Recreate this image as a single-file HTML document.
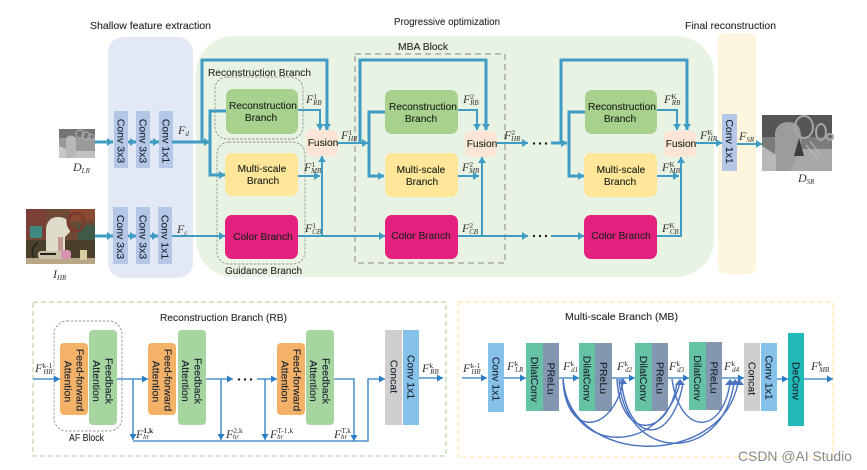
<!DOCTYPE html>
<html><head><meta charset="utf-8">
<style>
html,body{margin:0;padding:0;background:#fff;width:867px;height:470px;overflow:hidden}
svg{display:block;filter:blur(.3px)}
text{font-family:"Liberation Sans",sans-serif;fill:#222}
.t{font-size:10.5px;fill:#2a2a2a;stroke:#2a2a2a;stroke-width:.12}
.b{font-size:10.2px;text-anchor:middle;fill:#1a231a;stroke:#1a231a;stroke-width:.12}
.r{font-size:10.5px;text-anchor:middle;fill:#18222e;stroke:#18222e;stroke-width:.12}
.m{font-family:"Liberation Serif",serif;font-style:italic;font-size:12px;fill:#333}
.u{font-size:7.5px;font-style:normal}
.l{font-size:7px}
.a{fill:none;stroke:#3f9dc4;stroke-width:3}
.a2{fill:none;stroke:#3f9dc4;stroke-width:2}
.n{fill:none;stroke:#2a7cc7;stroke-width:1.3}
.c{fill:none;stroke:#4a72c0;stroke-width:1.4}
</style></head><body>
<svg width="867" height="470" viewBox="0 0 867 470" xmlns="http://www.w3.org/2000/svg">
<defs>
<marker id="h" markerUnits="userSpaceOnUse" markerWidth="7" markerHeight="8" refX="6" refY="4" orient="auto"><path d="M0,0L6,4L0,8z" fill="#3f9dc4"/></marker>
<marker id="n" markerUnits="userSpaceOnUse" markerWidth="7" markerHeight="7" refX="6" refY="3.5" orient="auto"><path d="M0,0L6,3.5L0,7z" fill="#2a7cc7"/></marker>
</defs>

<!-- panels -->
<rect x="108" y="37" width="85" height="241" rx="15" fill="#e3e9f4"/>
<rect x="196" y="36" width="518" height="241" rx="38" fill="#e9f3e3"/>
<rect x="718" y="33" width="38" height="241" rx="7" fill="#fdf5de"/>

<text class="t" x="90" y="29" textLength="121" lengthAdjust="spacingAndGlyphs">Shallow feature extraction</text>
<text class="t" x="394" y="25" textLength="106" lengthAdjust="spacingAndGlyphs">Progressive optimization</text>
<text class="t" x="685" y="29" textLength="91" lengthAdjust="spacingAndGlyphs">Final reconstruction</text>
<text class="t" x="398" y="50" textLength="50" lengthAdjust="spacingAndGlyphs">MBA Block</text>
<text class="t" x="208" y="76" textLength="103" lengthAdjust="spacingAndGlyphs">Reconstruction Branch</text>
<text class="t" x="225" y="274" textLength="77" lengthAdjust="spacingAndGlyphs">Guidance Branch</text>

<!-- D_LR image -->
<rect x="59" y="129" width="36" height="29" fill="#999"/>
<rect x="59" y="129" width="36" height="9" fill="#747474"/>
<path d="M66,158V138q5,-5 10,0V150l5,8z" fill="#b8b8b8"/>
<path d="M59,146l7,3v9h-7z" fill="#c8c8c8"/>
<rect x="76" y="151" width="19" height="7" fill="#c2c2c2"/>
<g fill="none" stroke="#aaa" stroke-width="1.2"><circle cx="80" cy="134" r="4"/><circle cx="86" cy="136" r="4"/><circle cx="91" cy="137" r="3"/></g>

<!-- I_HR image -->
<rect x="26" y="209" width="69" height="55" fill="#6c4a36"/>
<rect x="26" y="209" width="20" height="30" fill="#7a4038"/>
<rect x="30" y="226" width="12" height="12" fill="#3f8a80"/>
<rect x="70" y="209" width="25" height="12" fill="#8a4a30"/>
<rect x="78" y="225" width="17" height="20" fill="#3f5a48"/>
<rect x="26" y="240" width="69" height="24" fill="#4a3f2a"/>
<rect x="26" y="258" width="69" height="6" fill="#b8a888"/>
<path d="M46,252V228q2,-11 12,-11q10,0 11,8l1,7l-5,5v15z" fill="#e0dccb"/>
<ellipse cx="76" cy="222" rx="8" ry="9" fill="none" stroke="#7a3a30" stroke-width="3"/>
<rect x="58" y="237" width="5" height="17" fill="#c09a90"/>
<rect x="38" y="251" width="27" height="8" rx="3" fill="#c9c2a8"/>
<rect x="40" y="253" width="16" height="2" fill="#222"/>
<rect x="61" y="250" width="10" height="9" rx="3" fill="#d892b0"/>
<rect x="80" y="250" width="7" height="10" fill="#d8cfa0"/>
<path d="M34,258q-5,-10 4,-15" fill="none" stroke="#222" stroke-width="1.5"/>

<!-- D_SR image -->
<rect x="762" y="115" width="70" height="56" fill="#7c7c7c"/>
<rect x="762" y="115" width="70" height="22" fill="#565656"/>
<path d="M775,171V133q2,-11 14,-11q11,0 12,13V150l4,21z" fill="#9c9c9c"/>
<path d="M762,146l14,9v16h-14z" fill="#b8b8b8"/>
<path d="M790,171l10,-22h32v22z" fill="#a8a8a8"/>
<path d="M794,156l5,-18 5,18z" fill="#3c3c3c"/>
<g fill="none" stroke="#a6a6a6" stroke-width="2"><ellipse cx="804" cy="127" rx="9" ry="11"/><ellipse cx="821" cy="132" rx="5" ry="8"/><circle cx="830" cy="137" r="3"/></g>
<path d="M806,145l12,14M810,141l12,16" stroke="#bbb" stroke-width="1"/>

<!-- conv blocks -->
<g fill="#b4c7e7">
<rect x="114" y="111" width="14" height="57"/><rect x="136" y="111" width="14" height="57"/><rect x="159" y="111" width="14" height="57"/>
<rect x="113" y="207" width="15" height="57"/><rect x="136" y="207" width="14" height="57"/><rect x="158" y="207" width="14" height="57"/>
<rect x="722" y="114" width="15" height="57"/>
</g>
<text class="r" transform="translate(121,141) rotate(90)" y="3.500">Conv 3x3</text>
<text class="r" transform="translate(143,141) rotate(90)" y="3.500">Conv 3x3</text>
<text class="r" transform="translate(166,141) rotate(90)" y="3.500">Conv 1x1</text>
<text class="r" transform="translate(120.500,237) rotate(90)" y="3.500">Conv 3x3</text>
<text class="r" transform="translate(143,237) rotate(90)" y="3.500">Conv 3x3</text>
<text class="r" transform="translate(165,237) rotate(90)" y="3.500">Conv 1x1</text>
<text class="r" transform="translate(729.500,141.500) rotate(90)" y="3.500">Conv 1x1</text>

<!-- dashed groups -->
<rect x="215" y="77" width="88" height="62" rx="12" fill="none" stroke="#777" stroke-width=".7" stroke-dasharray="2.5 1.5"/>
<rect x="217" y="142" width="88" height="122" rx="12" fill="none" stroke="#777" stroke-width=".7" stroke-dasharray="2.5 1.5"/>
<rect x="355" y="54" width="150" height="209" fill="none" stroke="#aaa" stroke-width="1.5" stroke-dasharray="6 4"/>

<!-- branch boxes -->
<rect x="226" y="89" width="72" height="45" rx="7" fill="#a9d18e"/>
<rect x="225" y="153" width="73" height="43" rx="7" fill="#ffe699"/>
<rect x="225" y="215" width="73" height="44" rx="7" fill="#e6207f"/>
<rect x="306" y="130" width="32" height="26" rx="5" fill="#fbe5d6"/>
<rect x="385" y="90" width="73" height="44" rx="7" fill="#a9d18e"/>
<rect x="385" y="153" width="73" height="44" rx="7" fill="#ffe699"/>
<rect x="385" y="215" width="73" height="44" rx="7" fill="#e6207f"/>
<rect x="465" y="131" width="32" height="26" rx="5" fill="#fbe5d6"/>
<rect x="585" y="90" width="72" height="44" rx="7" fill="#a9d18e"/>
<rect x="584" y="153" width="73" height="44" rx="7" fill="#ffe699"/>
<rect x="584" y="215" width="73" height="44" rx="7" fill="#e6207f"/>
<rect x="664" y="131" width="32" height="26" rx="5" fill="#fbe5d6"/>

<text class="b" x="263" y="109">Reconstruction</text><text class="b" x="261" y="121">Branch</text>
<text class="b" x="262" y="172">Multi-scale</text><text class="b" x="263" y="184">Branch</text>
<text class="b" x="263" y="240">Color Branch</text>
<text class="b" x="323" y="146">Fusion</text>
<text class="b" x="423" y="110">Reconstruction</text><text class="b" x="421" y="122">Branch</text>
<text class="b" x="421" y="173">Multi-scale</text><text class="b" x="422" y="185">Branch</text>
<text class="b" x="421" y="239">Color Branch</text>
<text class="b" x="482" y="147">Fusion</text>
<text class="b" x="622" y="110">Reconstruction</text><text class="b" x="620" y="122">Branch</text>
<text class="b" x="621" y="173">Multi-scale</text><text class="b" x="620" y="185">Branch</text>
<text class="b" x="621" y="239">Color Branch</text>
<text class="b" x="681" y="147">Fusion</text>

<!-- top connectors -->
<path class="a" d="M95,142H113" marker-end="url(#h)"/>
<path class="a" d="M128,142H136" marker-end="url(#h)"/>
<path class="a" d="M150,142H159" marker-end="url(#h)"/>
<path class="a" d="M172,142H210" marker-end="url(#h)"/>
<path class="a" d="M202,142V60H327V130" marker-end="url(#h)"/>
<path class="a" d="M226,111H210V175H225" marker-end="url(#h)"/>
<path class="a" d="M95,236H113" marker-end="url(#h)"/>
<path class="a" d="M128,236H136" marker-end="url(#h)"/>
<path class="a" d="M150,236H158" marker-end="url(#h)"/>
<path class="a2" d="M172,236H225" marker-end="url(#h)"/>
<path class="a2" d="M298,110H320V130" marker-end="url(#h)"/>
<path class="a2" d="M298,176H320" marker-end="url(#h)"/>
<path class="a2" d="M298,236H385" marker-end="url(#h)"/>
<path class="a2" d="M322,236V156" marker-end="url(#h)"/>
<path class="a2" d="M338,143H368" marker-end="url(#h)"/>
<path class="a" d="M360,143V60H486V130" marker-end="url(#h)"/>
<path class="a" d="M385,112H369V176H384" marker-end="url(#h)"/>
<path class="a2" d="M458,110H477V130" marker-end="url(#h)"/>
<path class="a2" d="M458,176H479" marker-end="url(#h)"/>
<path class="a2" d="M458,236H528" marker-end="url(#h)"/>
<path class="a2" d="M482,236V157" marker-end="url(#h)"/>
<path class="a2" d="M497,143H528" marker-end="url(#h)"/>
<path class="a" d="M551,143H567" marker-end="url(#h)"/>
<path class="a" d="M561,143V60H687V130" marker-end="url(#h)"/>
<path class="a" d="M585,112H569V176H584" marker-end="url(#h)"/>
<path class="a2" d="M551,236H584" marker-end="url(#h)"/>
<path class="a2" d="M657,110H677V130" marker-end="url(#h)"/>
<path class="a2" d="M657,176H679" marker-end="url(#h)"/>
<path class="a2" d="M657,236H681V157" marker-end="url(#h)"/>
<path class="a2" d="M696,143H722" marker-end="url(#h)"/>
<path class="a2" d="M737,144H762" marker-end="url(#h)"/>
<g fill="#222"><circle cx="534" cy="143.500" r="1.200"/><circle cx="540" cy="143.500" r="1.200"/><circle cx="546" cy="143.500" r="1.200"/>
<circle cx="534" cy="236" r="1.200"/><circle cx="540" cy="236" r="1.200"/><circle cx="546" cy="236" r="1.200"/></g>

<!-- top labels -->
<text class="m" x="178" y="134">F<tspan class="l" dy="2">d</tspan></text>
<text class="m" x="177" y="233">F<tspan class="l" dy="2">c</tspan></text>
<text class="m" x="73" y="171">D<tspan class="l" dy="2">LR</tspan></text>
<text class="m" x="53" y="278">I<tspan class="l" dy="2">HR</tspan></text>
<text class="m" x="798" y="182">D<tspan class="l" dy="2">SR</tspan></text>
<text class="m" x="739" y="140">F<tspan class="l" dy="2">SR</tspan></text>

<text class="m" x="306" y="103">F<tspan class="u" dy="-4">1</tspan><tspan class="l" dx="-4" dy="6">RB</tspan></text>
<text class="m" x="304" y="171">F<tspan class="u" dy="-4">1</tspan><tspan class="l" dx="-4" dy="6">MB</tspan></text>
<text class="m" x="305" y="232">F<tspan class="u" dy="-4">1</tspan><tspan class="l" dx="-4" dy="6">CB</tspan></text>
<text class="m" x="341" y="139">F<tspan class="u" dy="-4">1</tspan><tspan class="l" dx="-4" dy="6">HR</tspan></text>
<text class="m" x="463" y="103">F<tspan class="u" dy="-4">2</tspan><tspan class="l" dx="-4" dy="6">RB</tspan></text>
<text class="m" x="462" y="171">F<tspan class="u" dy="-4">2</tspan><tspan class="l" dx="-4" dy="6">MB</tspan></text>
<text class="m" x="462" y="232">F<tspan class="u" dy="-4">2</tspan><tspan class="l" dx="-4" dy="6">CB</tspan></text>
<text class="m" x="504" y="139">F<tspan class="u" dy="-4">2</tspan><tspan class="l" dx="-4" dy="6">HR</tspan></text>
<text class="m" x="664" y="103">F<tspan class="u" dy="-4">K</tspan><tspan class="l" dx="-5" dy="6">RB</tspan></text>
<text class="m" x="662" y="171">F<tspan class="u" dy="-4">K</tspan><tspan class="l" dx="-5" dy="6">MB</tspan></text>
<text class="m" x="662" y="232">F<tspan class="u" dy="-4">K</tspan><tspan class="l" dx="-5" dy="6">CB</tspan></text>
<text class="m" x="700" y="139">F<tspan class="u" dy="-4">K</tspan><tspan class="l" dx="-5" dy="6">HR</tspan></text>

<!-- bottom panels -->
<rect x="33" y="302" width="413" height="154" fill="none" stroke="#a9d18e" stroke-width="1" stroke-dasharray="5 3"/>
<rect x="458" y="302" width="375" height="155" fill="none" stroke="#ffe699" stroke-width="1" stroke-dasharray="5 3"/>
<text class="t" x="160" y="321" textLength="127" lengthAdjust="spacingAndGlyphs">Reconstruction Branch (RB)</text>
<text class="t" x="565" y="320" textLength="113" lengthAdjust="spacingAndGlyphs">Multi-scale Branch (MB)</text>
<text class="t" x="69" y="441" textLength="35" lengthAdjust="spacingAndGlyphs">AF Block</text>

<rect x="54" y="321" width="68" height="110" rx="13" fill="none" stroke="#777" stroke-width=".7" stroke-dasharray="2.5 1.5"/>

<g fill="#f4b168">
<rect x="60" y="343" width="28" height="72" rx="4"/><rect x="148" y="343" width="28" height="72" rx="4"/><rect x="277" y="343" width="28" height="72" rx="4"/>
</g>
<g fill="#a6d5a0">
<rect x="89" y="330" width="28" height="95" rx="4"/><rect x="178" y="330" width="28" height="95" rx="4"/><rect x="306" y="330" width="28" height="95" rx="4"/>
</g>
<rect x="385" y="330" width="17" height="95" fill="#d0cece"/>
<rect x="403" y="330" width="16" height="95" fill="#85c1e9"/>

<text class="r" transform="translate(80,380) rotate(90)" y="3.500">Feed-forward</text>
<text class="r" transform="translate(68,381.500) rotate(90)" y="3.500">Attention</text>
<text class="r" transform="translate(109,381) rotate(90)" y="3.500">Feedback</text>
<text class="r" transform="translate(96.500,381) rotate(90)" y="3.500">Attention</text>
<text class="r" transform="translate(168,380) rotate(90)" y="3.500">Feed-forward</text>
<text class="r" transform="translate(156,381.500) rotate(90)" y="3.500">Attention</text>
<text class="r" transform="translate(198,381) rotate(90)" y="3.500">Feedback</text>
<text class="r" transform="translate(185.500,381) rotate(90)" y="3.500">Attention</text>
<text class="r" transform="translate(297,380) rotate(90)" y="3.500">Feed-forward</text>
<text class="r" transform="translate(285,381.500) rotate(90)" y="3.500">Attention</text>
<text class="r" transform="translate(326,381) rotate(90)" y="3.500">Feedback</text>
<text class="r" transform="translate(313.500,381) rotate(90)" y="3.500">Attention</text>
<text class="r" transform="translate(394,376.500) rotate(90)" y="3.500">Concat</text>
<text class="r" transform="translate(411,377) rotate(90)" y="3.500">Conv 1x1</text>

<path class="n" d="M33,379H60" marker-end="url(#n)"/>
<path class="n" d="M117,379H148" marker-end="url(#n)"/>
<path class="n" d="M206,379H233" marker-end="url(#n)"/>
<path class="n" d="M257,379H277" marker-end="url(#n)"/>
<path class="n" d="M334,379H354V441" marker-end="url(#n)"/>
<path class="n" d="M133,379V440" marker-end="url(#n)"/>
<path class="n" d="M221,379V440" marker-end="url(#n)"/>
<path class="n" d="M265,379V440" marker-end="url(#n)"/>
<path class="n" d="M133,441H368V379H385" marker-end="url(#n)"/>
<path class="n" d="M419,378H443" marker-end="url(#n)"/>
<g fill="#222"><circle cx="239" cy="379.500" r="1.200"/><circle cx="245" cy="379.500" r="1.200"/><circle cx="251" cy="379.500" r="1.200"/></g>

<text class="m" x="35" y="372">F<tspan class="u" dy="-4">k-1</tspan><tspan class="l" dx="-9" dy="6">HR</tspan></text>
<text class="m" x="136" y="438">F<tspan class="u" dy="-5" style="font-weight:bold">1,k</tspan><tspan class="l" dx="-10" dy="6">hr</tspan></text>
<text class="m" x="226" y="438">F<tspan class="u" dy="-5">2,k</tspan><tspan class="l" dx="-10" dy="6">hr</tspan></text>
<text class="m" x="270" y="438">F<tspan class="u" dy="-5">T-1,k</tspan><tspan class="l" dx="-16" dy="6">hr</tspan></text>
<text class="m" x="334" y="438">F<tspan class="u" dy="-5">T,k</tspan><tspan class="l" dx="-10" dy="6">hr</tspan></text>
<text class="m" x="422" y="372">F<tspan class="u" dy="-4">k</tspan><tspan class="l" dx="-3" dy="6">RB</tspan></text>

<!-- multi-scale blocks -->
<rect x="488" y="343" width="16" height="69" fill="#85c1e9"/>
<g fill="#66c2a5"><rect x="526" y="343" width="17" height="68"/><rect x="579" y="343" width="16" height="68"/><rect x="635" y="343" width="17" height="68"/><rect x="689" y="342" width="17" height="68"/></g>
<g fill="#8497b0"><rect x="543" y="343" width="16" height="68"/><rect x="595" y="343" width="17" height="68"/><rect x="652" y="343" width="16" height="68"/><rect x="706" y="342" width="16" height="68"/></g>
<rect x="744" y="343" width="16" height="68" fill="#d0cece"/>
<rect x="761" y="343" width="16" height="68" fill="#85c1e9"/>
<rect x="788" y="333" width="16" height="93" fill="#20b8b8"/>

<text class="r" transform="translate(496,379) rotate(90)" y="3.500">Conv 1x1</text>
<text class="r" transform="translate(534.500,379.500) rotate(90)" y="3.500">DilatConv</text>
<text class="r" transform="translate(551,378.500) rotate(90)" y="3.500">PReLu</text>
<text class="r" transform="translate(587,378.500) rotate(90)" y="3.500">DilatConv</text>
<text class="r" transform="translate(603.500,378) rotate(90)" y="3.500">PReLu</text>
<text class="r" transform="translate(643.500,378.500) rotate(90)" y="3.500">DilatConv</text>
<text class="r" transform="translate(660,378) rotate(90)" y="3.500">PReLu</text>
<text class="r" transform="translate(697.500,378) rotate(90)" y="3.500">DilatConv</text>
<text class="r" transform="translate(714,377.500) rotate(90)" y="3.500">PReLu</text>
<text class="r" transform="translate(752,378.500) rotate(90)" y="3.500">Concat</text>
<text class="r" transform="translate(769,377.500) rotate(90)" y="3.500">Conv 1x1</text>
<text class="r" transform="translate(796,381) rotate(90)" y="3.500">DeConv</text>

<path class="n" d="M462,378H487" marker-end="url(#n)"/>
<path class="n" d="M504,378H526" marker-end="url(#n)"/>
<path class="n" d="M559,378H579" marker-end="url(#n)"/>
<path class="n" d="M612,378H635" marker-end="url(#n)"/>
<path class="n" d="M668,378H689" marker-end="url(#n)"/>
<path class="n" d="M722,378H744" marker-end="url(#n)"/>
<path class="n" d="M777,379H788" marker-end="url(#n)"/>
<path class="n" d="M804,379H833" marker-end="url(#n)"/>

<path class="c" d="M563,379C565,436 610,436 623,383"/>
<path class="c" d="M563,379C570,456 660,456 680,383"/>
<path class="c" d="M563,379C570,468 722,468 738,383"/>
<path class="c" d="M617,379C620,440 668,440 677,383"/>
<path class="c" d="M619,379C625,464 722,464 734,383"/>
<path class="c" d="M672,379C680,436 722,436 730,383"/>
<path class="c" d="M621,379C628,446 672,446 683,383"/>
<g fill="#4a72c0">
<path d="M623,378l-4,6h8z"/><path d="M680,379l-5,6h10z"/><path d="M730,379l-5,6h10z"/><path d="M735,379l-5,6h10z"/><path d="M739,379l-5,6h10z"/>
</g>

<text class="m" x="463" y="372">F<tspan class="u" dy="-4">k-1</tspan><tspan class="l" dx="-9" dy="6">HR</tspan></text>
<text class="m" x="507" y="370">F<tspan class="u" dy="-4">k</tspan><tspan class="l" dx="-3" dy="6">LR</tspan></text>
<text class="m" x="563" y="370">F<tspan class="u" dy="-4">k</tspan><tspan class="l" dx="-3" dy="6">d1</tspan></text>
<text class="m" x="617" y="370">F<tspan class="u" dy="-4">k</tspan><tspan class="l" dx="-3" dy="6">d2</tspan></text>
<text class="m" x="669" y="370">F<tspan class="u" dy="-4">k</tspan><tspan class="l" dx="-3" dy="6">d3</tspan></text>
<text class="m" x="724" y="370">F<tspan class="u" dy="-4">k</tspan><tspan class="l" dx="-3" dy="6">d4</tspan></text>
<text class="m" x="811" y="370">F<tspan class="u" dy="-4">k</tspan><tspan class="l" dx="-3" dy="6">MB</tspan></text>

<text x="738" y="461" font-size="14" style="fill:#8a8a8a" textLength="114" lengthAdjust="spacingAndGlyphs">CSDN @AI Studio</text>
</svg>
</body></html>
